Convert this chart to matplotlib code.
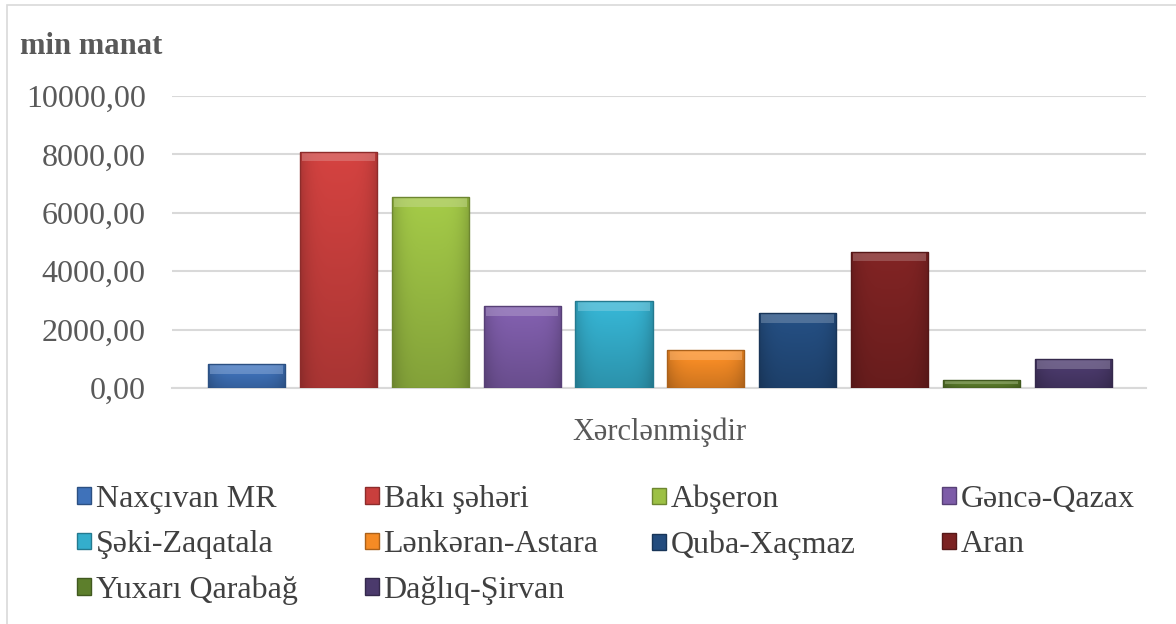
import numpy as np
import matplotlib.pyplot as plt
from matplotlib import font_manager
from matplotlib.patches import Patch, Rectangle
from matplotlib import colors as mcolors

# data
regions = ["Naxçıvan MR", "Bakı şəhəri", "Abşeron", "Gəncə-Qazax", "Şəki-Zaqatala",
           "Lənkəran-Astara", "Quba-Xaçmaz", "Aran", "Yuxarı Qarabağ", "Dağlıq-Şirvan"]
spent = [820, 8090, 6530, 2810, 2970, 1300, 2560, 4670, 270, 980]
bar_colors = ["#3F72BA", "#C93F3D", "#9CC044", "#7D5CA8", "#34AECC",
              "#F58B25", "#234C7E", "#7B2222", "#5D7F2C", "#4B3A6C"]
category = "Xərclənmişdir"
unit = "min manat"
yticks = [0, 2000, 4000, 6000, 8000, 10000]

# pick a Times-like serif face if one is installed
names = {f.name for f in font_manager.fontManager.ttflist}
serif = [n for n in ["Liberation Serif", "Times New Roman", "Tinos", "Nimbus Roman",
                     "Noto Serif", "DejaVu Serif"] if n in names]
plt.rcParams['font.family'] = serif + ['DejaVu Sans']

fig = plt.figure(figsize=(11.76, 6.24), dpi=100)
ax = fig.add_axes([0.1463, 0.3782, 0.8282, 0.4680])

# outer chart border (light gray)
fig.patches.append(Rectangle((7 / 1176, -0.05), 1.2, 1 - 5 / 624 + 0.05,
                             transform=fig.transFigure, fill=False,
                             edgecolor="#D9D9D9", linewidth=1.2))

x = np.arange(len(spent))
w = 0.84
bars = ax.bar(x, spent, width=w, color=bar_colors, zorder=3,
              edgecolor="none")

# shading for a bevelled look
n = 64
hx = np.linspace(0, 1, n)
hfac = 1 - 0.18 * np.abs(2 * hx - 1) ** 4
vy = np.linspace(0, 1, n)[:, None]
vfac = 0.84 + 0.22 * vy  # darker bottom, lighter top
for b, c, v in zip(bars, bar_colors, spent):
    rgb = np.array(mcolors.to_rgb(c))
    shade = (vfac * hfac[None, :])[:, :, None] * rgb[None, None, :]
    shade = np.clip(shade, 0, 1)
    x0 = b.get_x()
    im = ax.imshow(shade, extent=(x0, x0 + w, 0, v), origin="lower",
                   aspect="auto", zorder=3.5, interpolation="bilinear")
    im.set_clip_path(b)
    # lighter cap at the top
    cap = min(330, v * 0.5)
    light = np.clip(rgb * 0.6 + 0.4, 0, 1)
    ax.bar(b.get_x() + w / 2, cap, bottom=v - cap, width=w * 0.94,
           color=light, alpha=0.5, zorder=4, edgecolor="none")
    dark = rgb * 0.7
    ax.bar(b.get_x() + w / 2, v, width=w, fill=False, edgecolor=dark,
           linewidth=1.0, zorder=4.5)

ax.set_xlim(-0.81, len(spent) - 1 + 0.79)
ax.set_ylim(0, 10000)
ax.set_yticks(yticks)
ax.set_yticklabels([f"{t:.2f}".replace(".", ",") for t in yticks])
ax.yaxis.grid(True, color="#D9D9D9", linewidth=1.5, zorder=0)
ax.set_axisbelow(True)
for s in ["left", "right", "top"]:
    ax.spines[s].set_visible(False)
ax.spines["bottom"].set_color("#D9D9D9")
ax.spines["bottom"].set_linewidth(1.5)
ax.tick_params(axis="y", length=0, pad=19, labelsize=23, labelcolor="#595959")
ax.set_xticks([])
ax.set_xlabel(category, fontsize=22, color="#595959", labelpad=21)

fig.text(20 / 1176, 1 - 47 / 624, unit, fontsize=22, fontweight="bold",
         color="#595959", va="center", ha="left")

# legend laid out in four columns, row by row
handles = [Patch(facecolor=c, edgecolor=mcolors.to_hex(np.array(mcolors.to_rgb(c)) * 0.7))
           for c in bar_colors]
col_x = [77, 365, 652, 942]
for ci in range(4):
    idx = list(range(ci, len(regions), 4))
    leg = fig.legend([handles[i] for i in idx], [regions[i] for i in idx],
                     loc="upper left", bbox_to_anchor=(col_x[ci] / 1176, 1 - 485 / 624),
                     frameon=False, fontsize=23, handlelength=0.43, handleheight=0.43,
                     handletextpad=0.15, labelspacing=0.51, borderpad=0,
                     borderaxespad=0, labelcolor="#404040")

fig.savefig("out.png", dpi=100)
